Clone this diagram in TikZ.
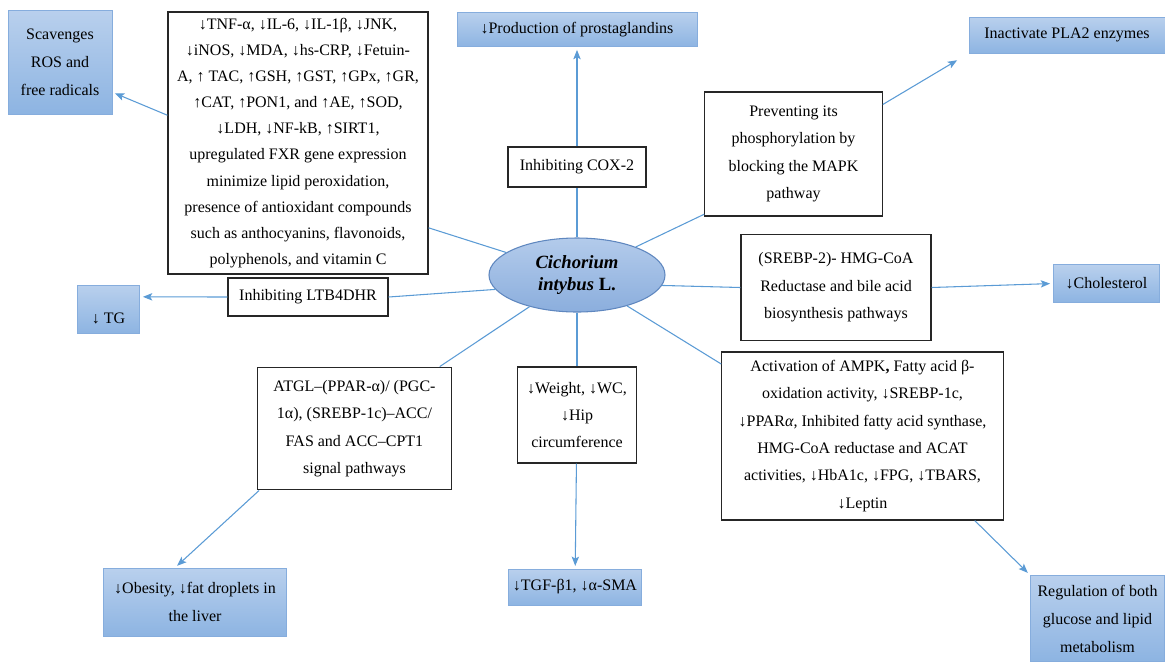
\documentclass[tikz,border=0pt]{standalone}
\usepackage{fontspec}
\setmainfont{Liberation Serif}
\usepackage{tikz}
\usetikzlibrary{arrows.meta,shapes.geometric}
\definecolor{linkblue}{HTML}{5B9BD5}
\definecolor{boxtop}{HTML}{B9D0ED}
\definecolor{boxbot}{HTML}{8DB4E2}
\definecolor{boxedge}{HTML}{86ADDD}
\definecolor{elltop}{HTML}{B3CBEB}
\definecolor{ellbot}{HTML}{8BAEDD}
\definecolor{elledge}{HTML}{5F87BF}
\tikzset{
  effbox/.style={ draw=black!85, line width=0.9pt, fill=white, align=center, inner sep=1pt, font=\fontsize{12}{20.5}\selectfont }
}
\tikzset{
  outbox/.style={ draw=boxedge, line width=0.6pt, top color=boxtop, bottom color=boxbot, align=center, inner sep=1pt, font=\fontsize{12}{21}\selectfont }
}
\tikzset{
  plant/.style={ ellipse, draw=elledge, line width=0.8pt, top color=elltop, bottom color=ellbot, align=center, inner sep=0pt, font=\fontsize{14}{17}\selectfont\bfseries\itshape }
}
\tikzset{
  link/.style={ draw=linkblue, line width=0.8pt },
  linkarr/.style={ link, -{Stealth[length=7pt, width=5.5pt, inset=1.5pt]}, shorten >=2pt }
}

\begin{document}
\begin{tikzpicture}[x=0.75pt, y=-0.75pt]
      \useasboundingbox (0,0) rectangle (1165,662);
      % central plant
      \node[plant, minimum width=132pt, minimum height=55.5pt] (plant) at (577,275) {Cichorium\\intybus \textup{L.}};
      % mechanism boxes
      \node[effbox, minimum width=195pt, minimum height=196.5pt, font=\fontsize{12}{19.6}\selectfont] (anti) at (298,143) {↓TNF-α, ↓IL-6, ↓IL-1β, ↓JNK,\\↓iNOS, ↓MDA, ↓hs-CRP, ↓Fetuin-\\A, ↑ TAC, ↑GSH, ↑GST, ↑GPx, ↑GR,\\↑CAT, ↑PON1, and ↑AE, ↑SOD,\\↓LDH, ↓NF-kB, ↑SIRT1,\\upregulated FXR gene expression\\minimize lipid peroxidation,\\presence of antioxidant compounds\\such as anthocyanins, flavonoids,\\polyphenols, and vitamin C};
      \node[effbox, minimum width=103.5pt, minimum height=30pt] (cox) at (577,167) {Inhibiting COX-2};
      \node[effbox, minimum width=133pt, minimum height=93pt] (prev) at (793.5,154) {Preventing its\\phosphorylation by\\blocking the MAPK\\pathway};
      \node[effbox, minimum width=142.5pt, minimum height=79pt] (srebp) at (836,287.5) {(SREBP-2)- HMG-CoA\\Reductase and bile acid\\biosynthesis pathways};
      \node[effbox, minimum width=120pt, minimum height=28.5pt] (ltb) at (308,297) {Inhibiting LTB4DHR};
      \node[effbox, minimum width=145pt, minimum height=92pt] (atgl) at (354.5,428.5) {ATGL–(PPAR-α)/ (PGC-\\1α), (SREBP-1c)–ACC/\\FAS and ACC–CPT1\\signal pathways};
      \node[effbox, minimum width=89pt, minimum height=72pt] (wt) at (577,415) {↓Weight, ↓WC,\\↓Hip\\circumference};
      \node[effbox, minimum width=211pt, minimum height=126pt] (ampk) at (862.5,436) {Activation of AMPK\textbf{,} Fatty acid β-\\oxidation activity, ↓SREBP-1c,\\↓PPAR\textit{α}, Inhibited fatty acid synthase,\\HMG-CoA reductase and ACAT\\activities, ↓HbA1c, ↓FPG, ↓TBARS,\\↓Leptin};
      % outcome boxes
      \node[outbox, minimum width=78pt, minimum height=78pt] (scav) at (60,62) {Scavenges\\ROS and\\free radicals};
      \node[outbox, minimum width=180pt, minimum height=26pt] (prost) at (577,29.5) {↓Production of prostaglandins};
      \node[outbox, minimum width=147pt, minimum height=27pt] (pla2) at (1067,35) {Inactivate PLA2 enzymes};
      \node[outbox, minimum width=80pt, minimum height=28pt] (chol) at (1106.5,283.5) {↓Cholesterol};
      \node[outbox, minimum width=47pt, minimum height=36pt] (tg) at (108.5,309) {\raisebox{-7pt}[0.7em][0pt]{↓ TG}};
      \node[outbox, minimum width=100pt, minimum height=27pt] (tgf) at (575,587) {↓TGF-β1, ↓α-SMA};
      \node[outbox, minimum width=137pt, minimum height=51pt] (obes) at (195,602) {↓Obesity, ↓fat droplets in\\the liver};
      \node[outbox, minimum width=101pt, minimum height=65pt] (reg) at (1097.5,618.5) {Regulation of both\\glucose and lipid\\metabolism};
      % connectors
      \draw[link] (plant) -- (cox);
      \draw[linkarr] (cox) -- (prost);
      \draw[link] (plant) -- (anti.-33);
      \draw[linkarr] (anti.168) -- (scav.-30);
      \draw[link] (plant) -- (prev.-146);
      \draw[linkarr, shorten >=10pt] (prev.29) -- (pla2.south west);
      \draw[link] (plant.-7) -- (srebp.west);
      \draw[linkarr] (srebp.east) -- (chol.west);
      \draw[link] (plant.190) -- (ltb.east);
      \draw[linkarr] (ltb.west) -- (tg.21);
      \draw[link] (plant) -- (atgl.36);
      \draw[linkarr] (atgl.-147) -- (obes.120);
      \draw[link] (plant) -- (wt);
      \draw[linkarr] (wt) -- (tgf);
      \draw[link] (plant) -- (ampk.153);
      \draw[linkarr] (ampk.-37) -- (reg.north west);
    \end{tikzpicture}
\end{document}
